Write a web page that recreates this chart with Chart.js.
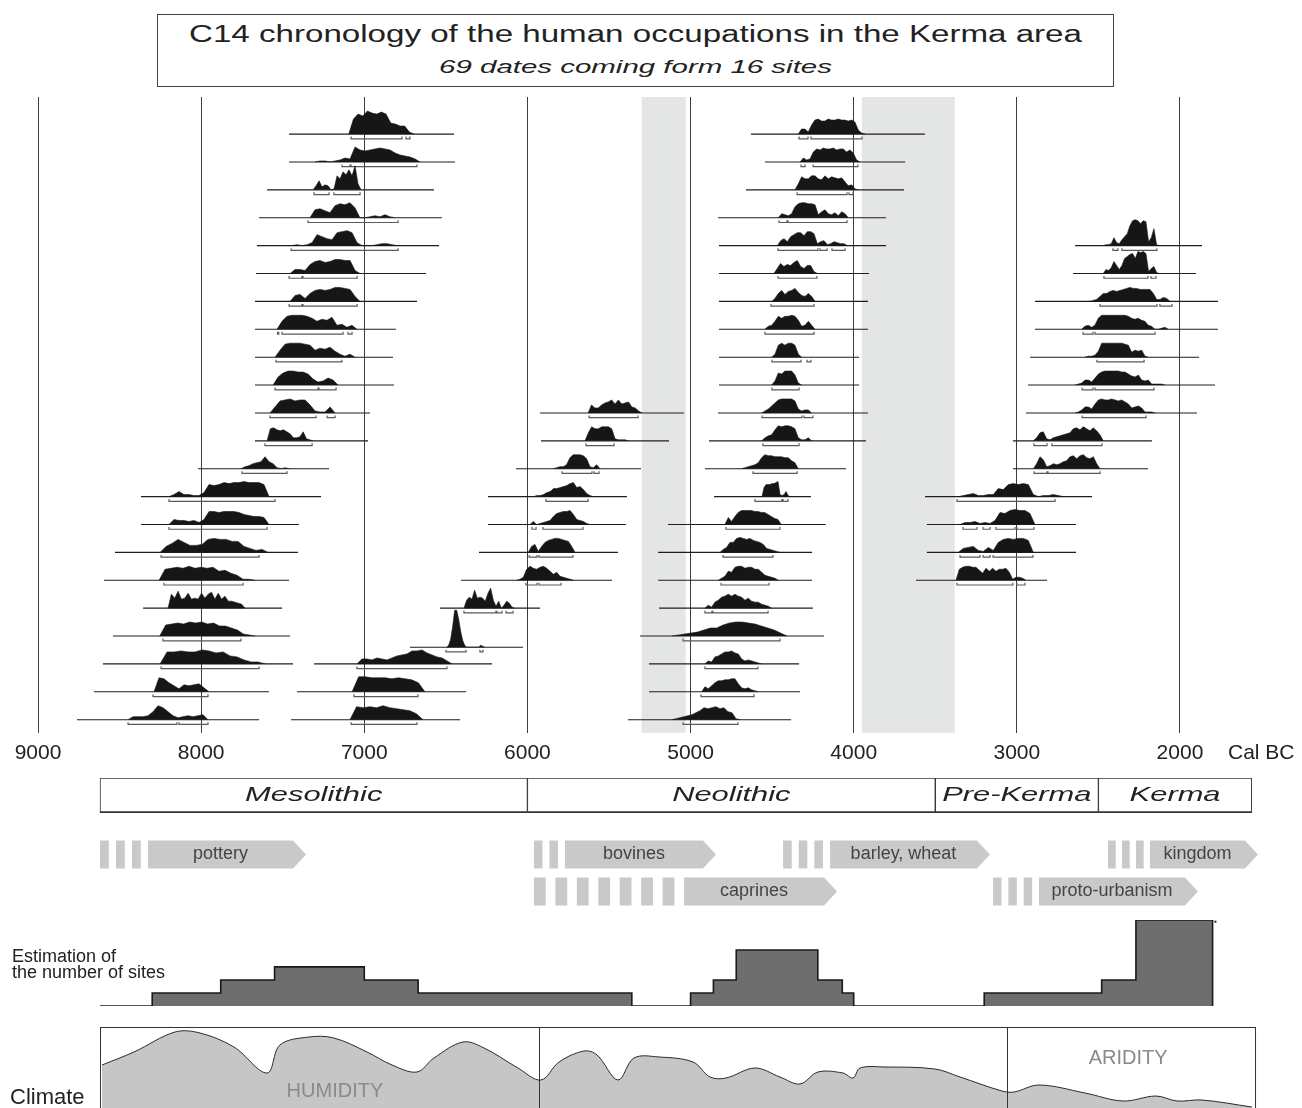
<!DOCTYPE html>
<html>
<head>
<meta charset="utf-8">
<script src="https://cdn.jsdelivr.net/npm/chart.js@4.4.1/dist/chart.umd.min.js"></script>
<style>
  body { margin: 0; background: #fff; width: 1302px; height: 1108px; position: relative; overflow: hidden;
         font-family: "Liberation Sans", Arial, sans-serif; color: #222; }
  canvas { position: absolute; left: 0; }
  .title-box { position: absolute; left: 157px; top: 14px; width: 955px; height: 71px; border: 1.5px solid #444; }
  .title-box div { position: absolute; left: 0; right: 0; text-align: center; white-space: nowrap; }
  .t1 { top: 6px; font-size: 23px; line-height: 26px; transform: scaleX(1.44); }
  .t2 { top: 41px; font-size: 19px; line-height: 22px; font-style: italic; transform: scaleX(1.55); }
  .sites-label { position: absolute; left: 12px; top: 948px; font-size: 18px; line-height: 16px; }
  .climate-label { position: absolute; left: 10px; top: 1085px; font-size: 22px; line-height: 24px; }
</style>
</head>
<body>
<div class="title-box">
  <div class="t1">C14 chronology of the human occupations in the Kerma area</div>
  <div class="t2">69 dates coming form 16 sites</div>
</div>
<canvas id="chrono" width="1302" height="677" style="top:97px"></canvas>
<canvas id="periods" width="1302" height="35" style="top:778px"></canvas>
<canvas id="arrows" width="1302" height="74" style="top:836px"></canvas>
<canvas id="sites" width="1302" height="92" style="top:916px"></canvas>
<canvas id="climate" width="1302" height="82" style="top:1026px"></canvas>
<div class="sites-label">Estimation of<br>the number of sites</div>
<div class="climate-label">Climate</div>

<script>
// ---- axis ----
const xMin = 1252, xMax = 9233;   // cal BC years at the page edges
const tickYears = [9000, 8000, 7000, 6000, 5000, 4000, 3000, 2000];
const tickLabels = ['9000', '8000', '7000', '6000', '5000', '4000', '3000', '2000'];
const greyBands = [[5300, 5030], [3950, 3380]];

// ---- C14 dates (one entry per date, parallel arrays) ----
const dateRow = [
  0,1,2,3,4,5,6,7,8,9,10,11,12,          // mesolithic upper
  13,14,15,16,17,18,19,20,21,            // mesolithic lower (~8000)
  19,20,21,                              // ~7000
  18.4,                                  // spike ~6450
  17,                                    // ~6300
  10,11,12,13,14,15,16,                  // ~5600
  0,1,2,3,4,5,6,7,8,9,10,11,12,13,14,15,16,17,18,19,20,21,  // neolithic
  4,5,6,7,8,9,10,11,12,                  // kerma
  13,14,15,16                            // pre-kerma
];
const rangeStart = [
  7461,7461,7596,7645,7658,7664,7670,7670,7670,7670,7670,7670,8019,
  8369,8369,8528,8595,8356,8540,8602,8657,8761,
  7308,7412,7449,
  6720,
  6536,
  5923,5917,6070,6242,6242,6297,6407,
  4630,4544,4660,4832,4826,4826,4826,4826,4826,4826,4832,4887,4912,4856,5138,5199,5199,5193,5310,5255,5255,5383,
  2643,2656,2889,2889,2919,2932,2944,3024,3024,
  3563,3551,3551,3618
];
const rangeEnd = [
  6450,6444,6573,6524,6542,6622,6677,6806,6824,6818,6965,6977,7216,
  7265,7400,7406,7461,7504,7455,7437,7584,7645,
  6217,6376,6413,
  6027,
  5923,
  5040,5132,5304,5390,5396,5445,5481,
  3563,3685,3692,3802,3802,3906,3912,3912,3967,3967,3912,3925,4047,4262,4171,4255,4255,4250,4182,4335,4329,4384,
  1865,1902,1767,1767,1883,1785,1896,2172,2196,
  2539,2637,2637,2815
];
const curveStart = [
  7095,7302,7314,7333,7443,7455,7455,7535,7547,7559,7578,7596,7756,
  8197,8197,8252,8258,8203,8254,8252,8289,8448,
  7045,7075,7088,
  6495,
  6389,
  5628,5647,5842,5962,5984,5995,6066,
  4340,4329,4360,4462,4468,4489,4503,4544,4503,4503,4564,4564,4687,4562,4789,4820,4830,4912,5114,4912,4932,5114,
  2470,2470,2572,2603,2582,2643,2643,2899,2899,
  3359,3348,3359,3373
];
const curveEnd = [
  6695,6658,7020,6812,6799,7026,7026,7045,7057,7161,7179,7314,7461,
  7584,7584,7590,7670,7731,7668,7608,7952,7958,
  6462,6628,6640,
  6262,
  6078,
  5298,5381,5555,5596,5616,5708,5718,
  3931,3962,3972,4033,4039,4223,4237,4237,4319,4319,4258,4258,4340,4390,4444,4452,4462,4503,4409,4564,4585,4697,
  2127,2127,2061,2072,2194,2092,2153,2470,2490,
  2715,2889,2899,2944
];
// probability heights read at even steps between curveStart and curveEnd
const curveHeights = [
  [0,15,20,18,23,21,20,22,20,11,10,8,8,2,0],
  [0,1,1,0,1,2,4,3,15,12,11,12,13,14,13,12,9,7,6,5,3,0],
  [0,4,9,3,5,4,0,1,14,11,18,15,20,14,24,6,0],
  [0,8,9,7,5,12,14,13,15,10,0,0,1,2,1,3,1,0],
  [0,1,0,1,3,11,9,7,6,13,14,15,13,3,0,0,0,1,2,2,1,0],
  [0,4,4,3,9,12,13,11,12,14,14,13,13,3,0],
  [0,6,7,3,8,11,12,11,12,14,14,13,12,5,0],
  [0,8,13,14,14,14,13,11,8,10,9,12,4,5,2,4,0],
  [0,7,13,14,14,14,13,12,7,9,8,10,6,3,1,3,0],
  [0,8,12,14,14,13,13,11,6,3,4,7,5,0],
  [0,6,12,13,14,12,13,13,8,2,1,1,6,0],
  [0,12,13,11,10,11,9,7,3,3,4,9,2,1,0],
  [0,2,3,5,6,7,12,7,5,1,0,1,0],

  [0,2,5,2,2,1,1,4,12,11,12,14,13,14,14,15,14,14,14,12,0],
  [0,5,4,4,3,4,2,5,13,13,12,13,13,13,12,10,9,8,8,7,0],
  [0,6,9,13,10,7,7,8,13,14,13,13,11,11,6,4,2,3,0],
  [0,11,12,13,12,14,12,13,12,13,9,10,7,5,1,1,0],
  [0,14,10,17,9,10,15,9,10,9,15,10,14,16,9,15,9,12,7,7,6,5,4,0],
  [0,11,12,13,12,14,13,14,12,13,10,10,8,6,2,1,0],
  [0,12,12,13,12,12,14,13,11,12,8,7,4,2,2,0],
  [0,14,13,9,6,3,7,6,7,8,4,0],
  [0,3,3,3,4,8,14,12,8,4,2,3,4,3,4,5,0],

  [0,5,5,4,6,5,4,6,8,9,10,13,13,14,11,9,7,6,3,0],
  [0,15,15,14,14,14,13,14,13,12,9,0],
  [0,13,12,13,12,14,12,11,10,9,6,0],

  [0,2,8,21,37,37,28,16,7,2,0,0,0,0,0,0,0,2,1,0],

  [0,8,11,9,18,10,11,10,7,15,20,8,2,7,0,3,7,5,1,0],

  [0,8,5,5,8,10,11,13,9,13,9,10,11,6,5,2,0],
  [0,8,14,12,12,14,14,14,12,2,1,1,1,0],
  [0,1,2,2,4,11,14,14,14,13,10,2,1,4,0],
  [0,1,1,2,4,5,8,8,9,10,11,13,14,9,10,7,3,1,0],
  [0,3,0,1,2,3,4,8,11,12,13,13,14,10,5,4,3,1,0],
  [0,6,8,1,6,10,12,13,14,14,13,12,11,6,0],
  [0,1,3,11,14,12,11,13,14,12,9,6,8,4,3,2,1,0],

  [0,5,5,2,9,14,15,13,13,15,14,14,15,14,14,13,14,12,4,1,0],
  [0,4,2,3,10,13,12,14,13,13,14,12,13,13,10,12,9,2,0],
  [0,6,13,11,11,14,14,11,10,14,11,13,12,11,12,8,4,5,1,0],
  [0,4,3,2,4,11,14,15,15,14,14,13,3,6,8,4,3,5,2,6,4,0],
  [0,5,7,4,9,11,13,13,10,14,14,12,2,4,5,1,2,4,3,2,2,0],
  [0,5,10,7,9,8,11,13,7,5,8,8,2,0],
  [0,3,8,11,7,10,11,13,9,6,5,8,5,0],
  [0,3,4,8,13,11,13,13,14,13,9,3,4,8,4,0],
  [0,3,12,14,12,14,14,12,3,0],
  [0,4,12,11,14,14,14,10,2,0],
  [0,2,4,7,10,13,14,14,14,14,12,4,2,3,3,0],
  [0,3,5,6,11,15,14,15,15,14,12,3,1,1,3,0],
  [0,1,2,3,4,6,11,14,13,13,12,12,12,11,11,8,6,0],
  [0,9,12,12,12,13,13,14,15,2,1,2,5,1,0],
  [0,7,3,8,12,14,14,14,14,13,13,12,12,10,8,6,5,0],
  [0,3,5,10,10,14,15,14,13,14,12,11,10,8,4,3,2,1,0],
  [0,2,4,9,8,13,14,14,12,13,13,11,11,8,5,4,3,2,0],
  [0,3,1,6,8,11,12,14,12,14,12,11,8,10,7,6,6,4,3,2,0],
  [0,1,2,3,4,6,8,8,11,13,14,14,13,12,10,8,6,3,0],
  [0,3,2,7,8,10,12,12,13,11,10,5,3,4,3,2,1,0],
  [0,5,3,6,9,11,11,12,12,13,13,8,4,3,4,2,1,0],
  [0,1,2,3,4,5,7,9,12,11,12,13,11,12,8,7,1,0],

  [0,1,1,2,8,3,2,6,9,12,20,25,26,25,22,25,24,4,8,17,1,0],
  [0,4,3,6,12,8,4,8,15,17,19,20,15,22,21,22,20,2,5,7,1,0],
  [0,0,1,2,5,8,8,10,11,10,11,12,13,14,13,13,12,12,12,12,8,2,2,4,3,0],
  [0,3,4,2,4,11,14,14,14,14,14,14,14,14,13,11,10,11,9,8,4,3,0,0,1,2,0],
  [0,1,1,2,6,14,14,14,14,14,14,14,13,12,5,7,6,7,1,0],
  [0,1,2,5,5,3,7,11,13,14,14,14,14,14,13,13,11,9,8,10,5,4,5,1,1,1,1,0],
  [0,1,3,6,6,4,9,13,14,13,13,14,13,12,13,11,9,5,6,7,5,1,1,1,0],
  [0,3,8,9,2,1,3,4,5,6,7,8,12,13,11,14,12,10,13,10,6,0],
  [0,5,12,9,2,3,5,4,5,7,8,12,13,10,13,14,11,10,12,5,0],

  [0,1,2,3,1,1,2,2,8,7,12,13,12,13,12,2,0,1,1,2,1,0],
  [0,2,2,3,1,2,1,4,12,11,14,15,14,14,11,0],
  [0,4,5,6,2,1,5,2,10,13,14,13,14,14,12,0],
  [0,11,13,14,14,13,13,10,7,12,9,12,9,11,11,12,8,1,3,3,2,0]
];
// 2-sigma ranges drawn as brackets under each date
const sigmaRanges = [
  [[7081,6769],[6744,6720]],
  [[7137,7088],[7081,6677]],
  [[7308,7216],[7186,7026]],
  [[7345,6793]],
  [[7449,6793]],
  [[7461,7382],[7376,7044]],
  [[7461,7382],[7376,7044]],
  [[7532,7524],[7504,7130],[7100,7075]],
  [[7541,7137]],
  [[7547,7284],[7278,7173]],
  [[7578,7296],[7228,7179]],
  [[7609,7320]],
  [[7750,7474]],

  [[8197,7547]],
  [[8197,7596]],
  [[8246,7645]],
  [[8228,7743]],
  [],
  [[8234,7756]],
  [[8246,7645]],
  [[8295,7958]],
  [[8448,8148],[8136,7958]],

  [[7045,6493]],
  [[7063,6671]],
  [[7081,6677]],

  [[6499,6376],[6291,6272]],

  [[6389,6193],[6187,6156],[6131,6088]],

  [[5622,5322]],
  [[5641,5469]],
  [[5788,5604],[5592,5561]],
  [[5886,5628]],
  [[5972,5947],[5905,5659]],
  [[5990,5941],[5929,5721]],
  [[6009,5941],[5929,5794]],

  [[4335,4280],[4262,3949]],
  [[4323,4298],[4249,3974]],
  [[4347,4041],[4029,4004]],
  [[4458,4409],[4403,4041]],
  [[4464,4219],[4207,4163],[4133,4053]],
  [[4464,4225]],
  [[4507,4243]],
  [[4544,4243]],
  [[4501,4323],[4286,4262]],
  [[4501,4335]],
  [[4562,4317],[4305,4250]],
  [[4556,4335]],
  [[4617,4347]],
  [[4605,4440],[4433,4403]],
  [[4783,4452]],
  [[4801,4495]],
  [[4813,4519]],
  [[4912,4869],[4863,4525]],
  [[5046,4452]],
  [[4912,4587]],
  [[4936,4611]],
  [[5046,4709]],

  [[2411,2380],[2356,2141]],
  [[2466,2196],[2178,2147]],
  [[2490,2141],[2123,2049]],
  [[2594,2533],[2521,2153]],
  [[2509,2220]],
  [[2600,2533],[2521,2159]],
  [[2600,2208]],
  [[2895,2815],[2785,2478]],
  [[2895,2815],[2809,2490]],

  [[3367,2766]],
  [[3330,3244],[3207,3164],[3128,3011],[3000,2895]],
  [[3348,3226],[3207,3164],[3146,2901]],
  [[3367,3024],[3000,2950]]
];
const rowDensity = 27.9;   // probability units per row

// ---- periods ----
const periodNames = ['Mesolithic', 'Neolithic', 'Pre-Kerma', 'Kerma'];
const periodStart = [8620, 6000, 3500, 2500];
const periodEnd = [6000, 3500, 2500, 1560];

// ---- innovations (arrows) ----
const arrowLabels = ['pottery', 'bovines', 'barley, wheat', 'kingdom', 'caprines', 'proto-urbanism'];
const arrowRow = [0, 0, 0, 0, 1, 1];
const arrowDashStart = [8620, 5960, 4433, 2441, 5960, 3146];
const arrowSolidStart = [8326, 5770, 4145, 2184, 5040, 2864];
const arrowTip = [7357, 4844, 3165, 1522, 4102, 1890];
const arrowDashes = [3, 2, 3, 3, 7, 3];

// ---- estimated number of sites ----
const siteYears = [
  [8300, 8300, 7880, 7550, 7000, 6670, 5360, 5360],
  [5000, 5000, 4860, 4720, 4220, 4070, 4000, 4000],
  [3200, 3200, 2480, 2270, 1800, 1800]
];
const siteLevels = [
  [0, 1, 2, 3, 2, 1, 1, 0],
  [0, 1, 2, 4.3, 2, 1, 1, 0],
  [0, 1, 2, 6.6, 6.6, 0]
];
const siteBaseline = [8620, 1800];
const siteUncertain = [1985, 1770];

// ---- climate ----
const climateYears = [8608,8412,8160,8007,7799,7596,7517,7339,7186,6983,6830,6677,6573,6395,6266,6058,5917,
  5806,5653,5573,5445,5347,5193,4985,4881,4783,4605,4452,4329,4219,4066,4004,3961,3808,3502,3348,3091,3017,
  2864,2582,2349,2147,2018,1865,1559];
const climateValues = [43,56,76,75,61,35,63,71,70,56,43,36,50,66,60,40,28,
  46,57,53,28,50,51,46,31,30,40,31,24,36,35,30,40,41,39,31,17,16,
  23,15,7,12,7,8,1];
const climateBox = [8620, 1540];
const climateDividers = [5930, 3060];
const climateLabels = ['HUMIDITY', 'ARIDITY'];
const climateLabelYears = [7180, 2318];
const climateLabelValues = [17, 50];

// ---- shared helpers ----
const baseOptions = {
  responsive: false,
  animation: false,
  events: [],
  layout: { padding: 0 },
  plugins: { legend: { display: false }, tooltip: { enabled: false } }
};
function hiddenYearAxis() {
  return { type: 'linear', min: xMin, max: xMax, reverse: true, display: false };
}

// ---- chart 1: chronology ----
const chronoSets = [];
dateRow.forEach((r, i) => {
  const h = curveHeights[i];
  const s = curveStart[i], e = curveEnd[i];
  chronoSets.push({
    data: h.map((v, k) => ({ x: s + (e - s) * k / (h.length - 1), y: r - v / rowDensity })),
    fill: { value: r },
    backgroundColor: '#161616',
    borderColor: '#161616',
    borderWidth: 0.6,
    pointRadius: 0,
    tension: 0,
    order: 0
  });
});
const rangePts = [];
const sigmaPts = [];
dateRow.forEach((r, i) => {
  rangePts.push({ x: rangeStart[i], y: r }, { x: rangeEnd[i], y: r }, { x: rangeEnd[i], y: null });
  sigmaRanges[i].forEach(([a, b]) => {
    sigmaPts.push({ x: a, y: r + 0.09 }, { x: a, y: r + 0.17 }, { x: b, y: r + 0.17 },
                  { x: b, y: r + 0.09 }, { x: b, y: null });
  });
});
chronoSets.push({ data: rangePts, borderColor: '#1e1e1e', borderWidth: 1.1, pointRadius: 0, fill: false, order: 1 });
chronoSets.push({ data: sigmaPts, borderColor: '#5a5a5a', borderWidth: 1.2, pointRadius: 0, fill: false, order: 1 });

const bandsPlugin = {
  id: 'bands',
  beforeDatasetsDraw(chart) {
    const { ctx, chartArea, scales: { x } } = chart;
    ctx.save();
    ctx.fillStyle = '#e4e6e5';
    greyBands.forEach(([a, b]) => {
      const p1 = x.getPixelForValue(a), p2 = x.getPixelForValue(b);
      ctx.fillRect(p1, chartArea.top, p2 - p1, chartArea.bottom - chartArea.top);
    });
    ctx.restore();
  },
  afterDraw(chart) {
    const { ctx, scales: { x } } = chart;
    ctx.save();
    ctx.font = '21px "Liberation Sans", Arial, sans-serif';
    ctx.fillStyle = '#222';
    ctx.textBaseline = 'middle';
    ctx.textAlign = 'left';
    ctx.fillText('Cal BC', x.getPixelForValue(2000) + 48, x.top + 8 + 12.6);
    ctx.restore();
  }
};

new Chart(document.getElementById('chrono'), {
  type: 'line',
  data: { datasets: chronoSets },
  options: Object.assign({}, baseOptions, {
    spanGaps: false,
    scales: {
      x: {
        type: 'linear', min: xMin, max: xMax, reverse: true,
        afterBuildTicks: s => { s.ticks = tickYears.map(v => ({ value: v })); },
        grid: { color: '#3c3c3c', lineWidth: 1, drawTicks: false },
        border: { display: false },
        ticks: {
          autoSkip: false, maxRotation: 0, padding: 8, color: '#222',
          font: { family: '"Liberation Sans", Arial, sans-serif', size: 21 },
          callback: (v, i) => tickLabels[i]
        }
      },
      y: { type: 'linear', min: -1.33, max: 21.47, reverse: true, display: false }
    }
  }),
  plugins: [bandsPlugin]
});

// ---- chart 2: periods ----
const periodLabelPlugin = {
  id: 'periodLabels',
  afterDatasetsDraw(chart) {
    const { ctx } = chart;
    ctx.save();
    ctx.font = 'italic 21px "Liberation Sans", Arial, sans-serif';
    ctx.fillStyle = '#222';
    ctx.textAlign = 'center';
    ctx.textBaseline = 'middle';
    periodNames.forEach((name, i) => {
      const el = chart.getDatasetMeta(i).data[0];
      ctx.save();
      ctx.translate((el.x + el.base) / 2, el.y);
      ctx.scale(1.47, 1);
      ctx.fillText(name, 0, 0);
      ctx.restore();
    });
    ctx.restore();
  }
};
new Chart(document.getElementById('periods'), {
  type: 'bar',
  data: {
    labels: ['period'],
    datasets: periodNames.map((n, i) => ({
      data: [[periodStart[i], periodEnd[i]]],
      backgroundColor: '#fff',
      borderColor: '#333',
      borderWidth: { top: 1, bottom: 2, left: 1, right: 1 },
      borderSkipped: false,
      barPercentage: 1,
      categoryPercentage: 1,
      grouped: false
    }))
  },
  options: Object.assign({}, baseOptions, {
    indexAxis: 'y',
    scales: { x: hiddenYearAxis(), y: { display: false } }
  }),
  plugins: [periodLabelPlugin]
});

// ---- chart 3: innovation arrows ----
const arrowPlugin = {
  id: 'arrows',
  afterDraw(chart) {
    const { ctx, scales: { x, y } } = chart;
    ctx.save();
    arrowLabels.forEach((label, i) => {
      const yc = y.getPixelForValue(arrowRow[i] + 0.5);
      const top = yc - 14, h = 28;
      const s0 = x.getPixelForValue(arrowDashStart[i]);
      const b0 = x.getPixelForValue(arrowSolidStart[i]);
      const tip = x.getPixelForValue(arrowTip[i]);
      const step = (b0 - s0) / arrowDashes[i];
      ctx.fillStyle = '#c9c9c9';
      for (let k = 0; k < arrowDashes[i]; k++) {
        ctx.fillRect(s0 + k * step, top, step * 0.55, h);
      }
      ctx.beginPath();
      ctx.moveTo(b0, top);
      ctx.lineTo(tip - 13, top);
      ctx.lineTo(tip, yc);
      ctx.lineTo(tip - 13, top + h);
      ctx.lineTo(b0, top + h);
      ctx.closePath();
      ctx.fill();
      ctx.fillStyle = '#444';
      ctx.font = '18px "Liberation Sans", Arial, sans-serif';
      ctx.textAlign = 'center';
      ctx.textBaseline = 'middle';
      ctx.fillText(label, (b0 + tip - 13) / 2, yc);
    });
    ctx.restore();
  }
};
new Chart(document.getElementById('arrows'), {
  type: 'scatter',
  data: { datasets: [] },
  options: Object.assign({}, baseOptions, {
    scales: { x: hiddenYearAxis(), y: { type: 'linear', min: 0, max: 2, reverse: true, display: false } }
  }),
  plugins: [arrowPlugin]
});

// ---- chart 4: number of sites ----
const siteSets = siteYears.map((yrs, b) => ({
  data: yrs.map((v, k) => ({ x: v, y: siteLevels[b][k] })),
  stepped: 'before',
  fill: 'origin',
  backgroundColor: '#6e6e6e',
  borderColor: '#1a1a1a',
  borderWidth: 1.6,
  pointRadius: 0
}));
siteSets.push({
  data: siteBaseline.map(v => ({ x: v, y: 0 })),
  borderColor: '#1a1a1a', borderWidth: 1.6, pointRadius: 0, fill: false
});
siteSets.push({
  data: siteUncertain.map(v => ({ x: v, y: 6.47 })),
  borderColor: '#222', borderWidth: 2, borderDash: [2, 2], pointRadius: 0, fill: false
});
new Chart(document.getElementById('sites'), {
  type: 'line',
  data: { datasets: siteSets },
  options: Object.assign({}, baseOptions, {
    layout: { padding: { top: 4, bottom: 2 } },
    scales: { x: hiddenYearAxis(), y: { type: 'linear', min: 0, max: 6.6, display: false } }
  })
});

// ---- chart 5: climate ----
const climatePlugin = {
  id: 'climateFrame',
  afterDatasetsDraw(chart) {
    const { ctx, chartArea, scales: { x, y } } = chart;
    ctx.save();
    ctx.strokeStyle = '#333';
    ctx.lineWidth = 1;
    const l = x.getPixelForValue(climateBox[0]), r = x.getPixelForValue(climateBox[1]);
    ctx.strokeRect(l + 0.5, chartArea.top + 0.5, r - l, chartArea.bottom - chartArea.top + 4);
    climateDividers.forEach(v => {
      const p = Math.round(x.getPixelForValue(v)) + 0.5;
      ctx.beginPath();
      ctx.moveTo(p, chartArea.top);
      ctx.lineTo(p, chartArea.bottom);
      ctx.stroke();
    });
    ctx.fillStyle = '#8a8a8a';
    ctx.font = '20px "Liberation Sans", Arial, sans-serif';
    ctx.textAlign = 'center';
    ctx.textBaseline = 'middle';
    climateLabels.forEach((t, i) => {
      ctx.fillText(t, x.getPixelForValue(climateLabelYears[i]), y.getPixelForValue(climateLabelValues[i]));
    });
    ctx.restore();
  }
};
new Chart(document.getElementById('climate'), {
  type: 'line',
  data: {
    datasets: [{
      data: climateYears.map((v, k) => ({ x: v, y: climateValues[k] })),
      fill: 'origin',
      backgroundColor: '#c6c6c6',
      borderColor: '#2a2a2a',
      borderWidth: 1,
      pointRadius: 0,
      tension: 0.35
    }]
  },
  options: Object.assign({}, baseOptions, {
    layout: { padding: { top: 1 } },
    scales: { x: hiddenYearAxis(), y: { type: 'linear', min: 0, max: 81, display: false } }
  }),
  plugins: [climatePlugin]
});
</script>
</body>
</html>
